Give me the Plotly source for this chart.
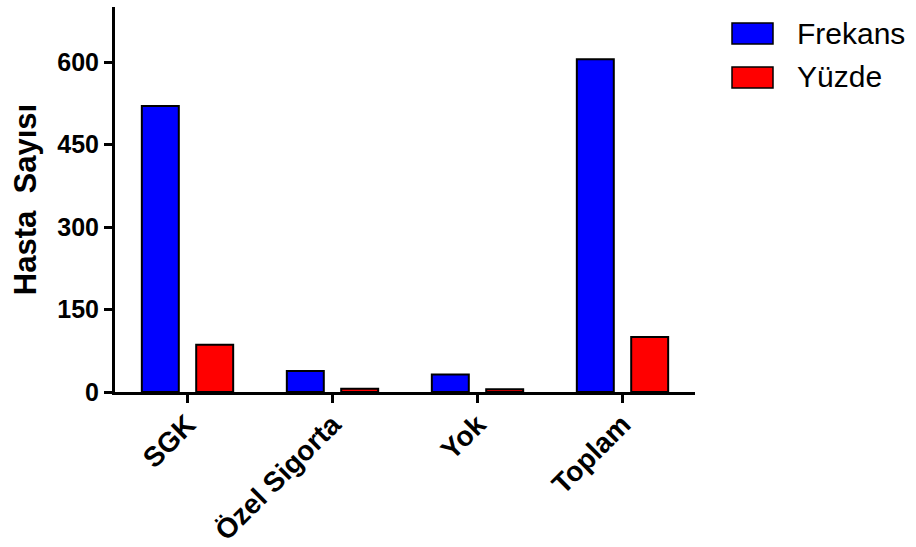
import plotly.graph_objects as go

# Sağlık güvencesi türüne göre hasta sayıları
kategoriler = ["SGK", "Özel Sigorta", "Yok", "Toplam"]
frekans = [520, 38, 32, 605]
yuzde = [86, 6, 5, 100]

seri_adlari = ["Frekans", "Yüzde"]
seri_renkleri = ["#0000FF", "#FF0000"]

y_tickleri = [0, 150, 300, 450, 600]

FONT = "Arial, 'Liberation Sans', sans-serif"

fig = go.Figure()
for ad, degerler, renk in zip(seri_adlari, [frekans, yuzde], seri_renkleri):
    fig.add_trace(go.Bar(
        x=kategoriler, y=degerler, name=ad,
        marker=dict(color=renk, line=dict(color="black", width=2)),
        showlegend=False,
    ))

# Sağ üstte el ile çizilen gösterge
for i, (ad, renk) in enumerate(zip(seri_adlari, seri_renkleri)):
    y0 = 23 + i * 44
    fig.add_shape(type="rect", xref="paper", yref="paper",
                  x0=(732 - 115) / 580, x1=(773 - 115) / 580,
                  y0=(392 - y0 - 21) / 385, y1=(392 - y0) / 385,
                  fillcolor=renk, line=dict(color="black", width=1.5))
    fig.add_annotation(xref="paper", yref="paper",
                       x=(795 - 115) / 580, y=(392 - y0 - 10) / 385,
                       text=ad, showarrow=False, xanchor="left", yanchor="middle",
                       font=dict(family=FONT, size=30, color="black"))

fig.update_layout(
    width=916, height=547,
    margin=dict(l=115, r=221, t=7, b=155),
    plot_bgcolor="white", paper_bgcolor="white",
    barmode="group", bargap=0.25, bargroupgap=0.32,
    font=dict(family=FONT, color="black"),
)
fig.update_xaxes(
    range=[-0.5, 3.5], showline=True, linecolor="black", linewidth=3,
    ticks="outside", ticklen=8, tickwidth=2.5, tickcolor="black",
    tickangle=-45, tickfont=dict(family=FONT, size=28, weight="bold"),
    ticklabelstandoff=-6, automargin=False,
    showgrid=False, zeroline=False,
)
fig.update_yaxes(
    range=[0, 700], tickvals=y_tickleri, showline=True, linecolor="black", linewidth=3,
    ticks="outside", ticklen=8, tickwidth=2.5, tickcolor="black",
    tickfont=dict(family=FONT, size=25, weight="bold"),
    showgrid=False, zeroline=False, automargin=False,
    title=dict(text="Hasta  Sayısı", font=dict(family=FONT, size=31, weight="bold"), standoff=12),
)

fig.write_html("out.html")
